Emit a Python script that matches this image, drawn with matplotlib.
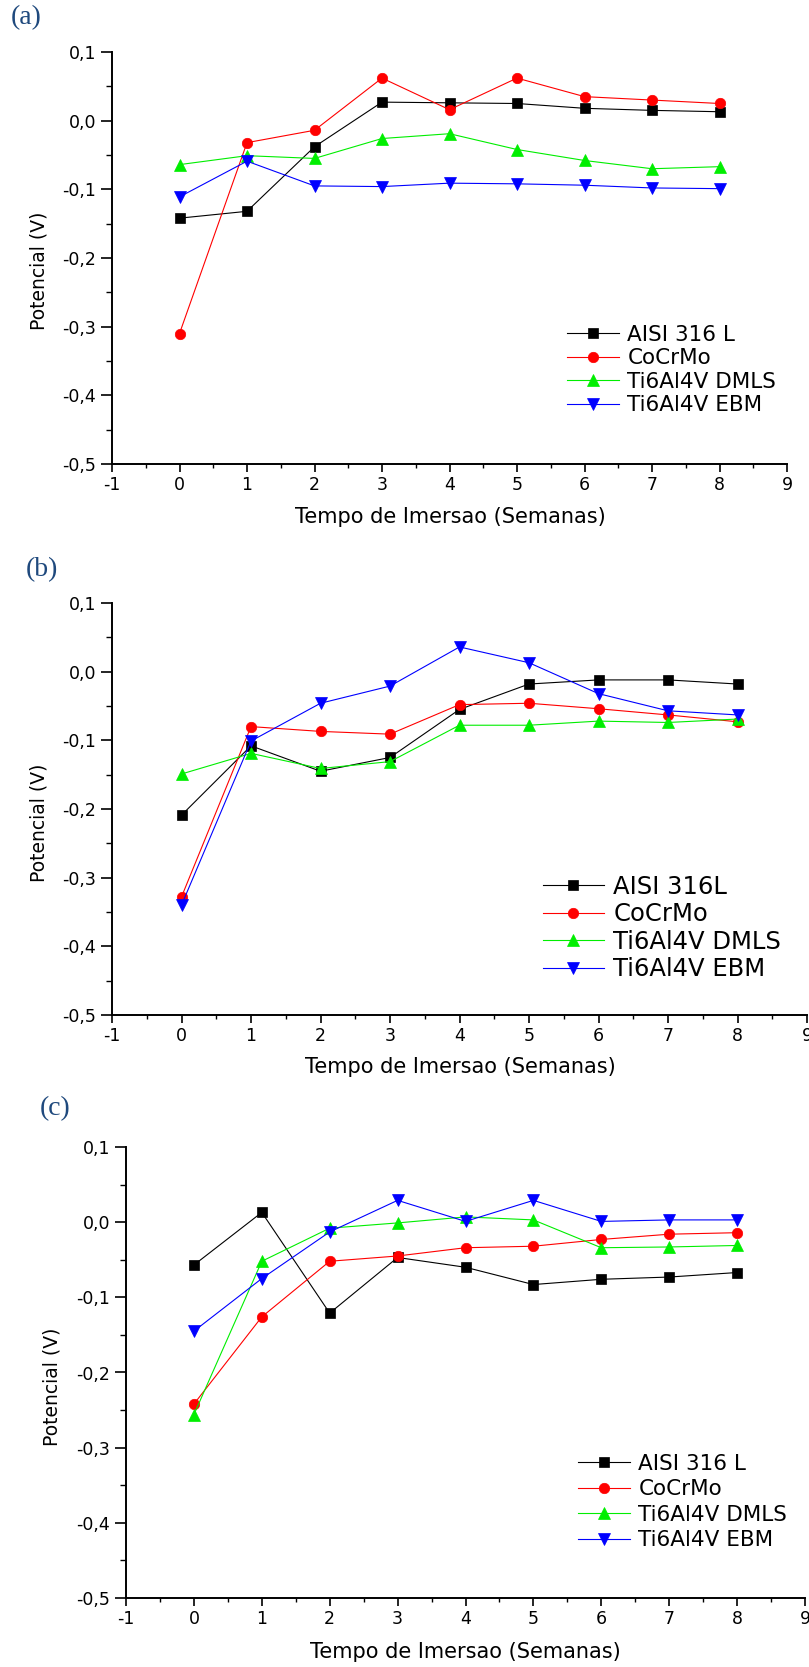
import matplotlib
matplotlib.use("Agg")
import matplotlib.pyplot as plt
from matplotlib.ticker import MultipleLocator, FuncFormatter

plt.rcParams["font.family"] = "DejaVu Sans"
plt.rcParams["axes.unicode_minus"] = False

# ── Dados (potencial em V vs. tempo de imersão em semanas) ─────────────────────
semanas = [0, 1, 2, 3, 4, 5, 6, 7, 8]

labels_ac = ["AISI 316 L", "CoCrMo", "Ti6Al4V DMLS", "Ti6Al4V EBM"]
labels_b = ["AISI 316L", "CoCrMo", "Ti6Al4V DMLS", "Ti6Al4V EBM"]

a_aisi   = [-0.142, -0.132, -0.038, 0.027, 0.026, 0.025, 0.018, 0.015, 0.013]
a_cocrmo = [-0.310, -0.032, -0.014, 0.062, 0.016, 0.062, 0.035, 0.030, 0.025]
a_dmls   = [-0.064, -0.051, -0.055, -0.026, -0.019, -0.042, -0.058, -0.070, -0.067]
a_ebm    = [-0.111, -0.059, -0.095, -0.096, -0.091, -0.092, -0.094, -0.098, -0.099]

b_aisi   = [-0.209, -0.108, -0.145, -0.125, -0.055, -0.018, -0.012, -0.012, -0.018]
b_cocrmo = [-0.328, -0.080, -0.087, -0.091, -0.048, -0.046, -0.054, -0.063, -0.073]
b_dmls   = [-0.149, -0.119, -0.141, -0.131, -0.078, -0.078, -0.072, -0.074, -0.069]
b_ebm    = [-0.340, -0.101, -0.046, -0.021, 0.036, 0.013, -0.032, -0.057, -0.063]

c_aisi   = [-0.057, 0.013, -0.121, -0.047, -0.060, -0.083, -0.076, -0.073, -0.067]
c_cocrmo = [-0.242, -0.126, -0.052, -0.045, -0.034, -0.032, -0.023, -0.016, -0.014]
c_dmls   = [-0.256, -0.052, -0.008, -0.001, 0.007, 0.003, -0.034, -0.033, -0.031]
c_ebm    = [-0.145, -0.075, -0.013, 0.029, 0.001, 0.029, 0.001, 0.003, 0.003]

# ── Estilo das séries ──────────────────────────────────────────────────────────
COLORS  = ["#000000", "#ff0000", "#00ee00", "#0000ff"]
MARKERS = ["s", "o", "^", "v"]
MSIZES  = [7.5, 7.5, 8.5, 8.5]
TAG_COLOR = "#1F497D"

W, H = 809, 1667


def fx(x):
    return x / W


def fy(y):
    return 1 - y / H


def fmt_y(v, _):
    return f"{round(v, 1) + 0.0:.1f}".replace(".", ",")


# caixa em pixels (esq, topo, dir, base)
panels = [
    dict(tag="(a)", tag_xy=(26, 18), box=(112, 52, 787, 464),
         data=[a_aisi, a_cocrmo, a_dmls, a_ebm], labels=labels_ac,
         xlab_xy=(450, 517), ylab_xy=(39, 271),
         leg_xy=(567, 370), leg_fs=15.5, leg_sp=0.17, leg_hl=2.4),
    dict(tag="(b)", tag_xy=(42, 570), box=(112, 603, 807, 1015),
         data=[b_aisi, b_cocrmo, b_dmls, b_ebm], labels=labels_b,
         xlab_xy=(460, 1067), ylab_xy=(39, 823),
         leg_xy=(543, 928), leg_fs=17.5, leg_sp=0.15, leg_hl=2.5),
    dict(tag="(c)", tag_xy=(55, 1109), box=(126, 1147, 805, 1598),
         data=[c_aisi, c_cocrmo, c_dmls, c_ebm], labels=labels_ac,
         xlab_xy=(465, 1652), ylab_xy=(52, 1387),
         leg_xy=(578, 1502), leg_fs=15.5, leg_sp=0.25, leg_hl=2.4),
]

fig = plt.figure(figsize=(W / 100, H / 100), dpi=100)

for p in panels:
    l, t, r, b = p["box"]
    ax = fig.add_axes([fx(l), fy(b), fx(r) - fx(l), fy(t) - fy(b)])
    ax.set_facecolor("none")

    for vals, lab, c, m, ms in zip(p["data"], p["labels"], COLORS, MARKERS, MSIZES):
        ax.plot(semanas, vals, color=c, lw=0.8, marker=m, ms=ms,
                mec=c, mew=0.5, label=lab)

    ax.set_xlim(-1, 9)
    ax.set_ylim(-0.5, 0.1)
    ax.xaxis.set_major_locator(MultipleLocator(1))
    ax.xaxis.set_minor_locator(MultipleLocator(0.5))
    ax.yaxis.set_major_locator(MultipleLocator(0.1))
    ax.yaxis.set_minor_locator(MultipleLocator(0.05))
    ax.yaxis.set_major_formatter(FuncFormatter(fmt_y))
    ax.xaxis.set_major_formatter(FuncFormatter(lambda v, _: f"{v:.0f}"))

    for s in ("top", "right"):
        ax.spines[s].set_visible(False)
    for s in ("left", "bottom"):
        ax.spines[s].set_linewidth(1.4)

    ax.tick_params(axis="x", which="major", direction="out", length=5.5,
                   width=1.2, pad=3, labelsize=12.5)
    ax.tick_params(axis="x", which="minor", direction="out", length=3,
                   width=1.0)
    ax.tick_params(axis="y", which="major", direction="out", length=8,
                   width=1.2, pad=3.5, labelsize=12.5)
    ax.tick_params(axis="y", which="minor", direction="out", length=4.3,
                   width=1.0)

    ax.legend(loc="center left", bbox_to_anchor=(fx(p["leg_xy"][0]), fy(p["leg_xy"][1])),
              bbox_transform=fig.transFigure, frameon=False,
              fontsize=p["leg_fs"], handlelength=p["leg_hl"], handletextpad=0.4,
              labelspacing=p["leg_sp"], borderpad=0, borderaxespad=0)

    fig.text(fx(p["xlab_xy"][0]), fy(p["xlab_xy"][1]), "Tempo de Imersao (Semanas)",
             ha="center", va="center", fontsize=15)
    fig.text(fx(p["ylab_xy"][0]), fy(p["ylab_xy"][1]), "Potencial (V)",
             ha="center", va="center", rotation=90, fontsize=13.5)
    fig.text(fx(p["tag_xy"][0]), fy(p["tag_xy"][1]), p["tag"],
             ha="center", va="center", fontsize=20, color=TAG_COLOR,
             family="Liberation Serif")

fig.savefig("out.png", dpi=100, facecolor="white")
